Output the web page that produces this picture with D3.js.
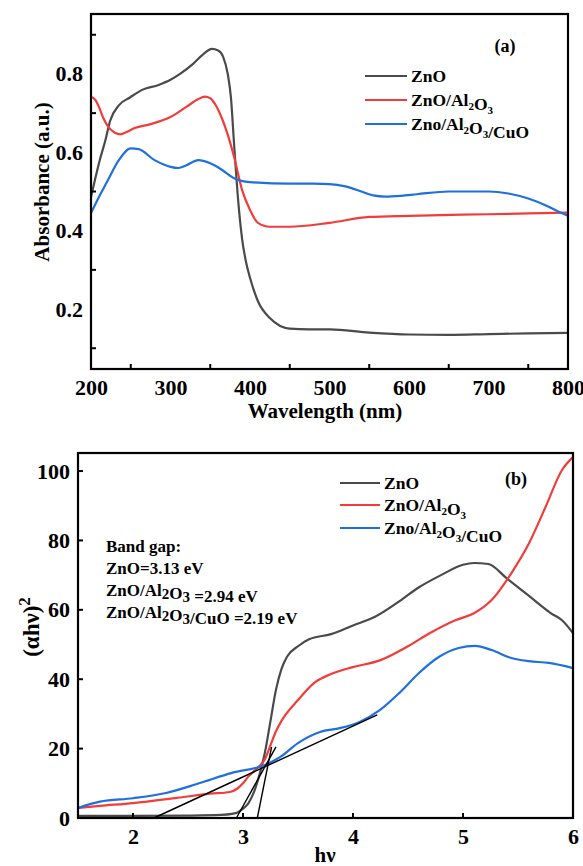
<!DOCTYPE html>
<html>
<head>
<meta charset="utf-8">
<script src="https://cdn.jsdelivr.net/npm/d3@7"></script>
<style>
  body { margin: 0; background: #fff; }
</style>
</head>
<body>
<div id="chart"></div>
<script>
// ---- panel (a) data: absorbance vs wavelength
var wlZnO = [200, 205, 211, 218, 224, 235, 249, 265, 285, 300, 312, 328, 341, 352, 360, 366, 372, 376, 380, 385, 390, 395, 400, 410, 425, 450, 475, 500, 550, 600, 650, 700, 750, 800];
var absZnO = [0.486, 0.53, 0.58, 0.63, 0.68, 0.72, 0.74, 0.76, 0.772, 0.785, 0.80, 0.825, 0.85, 0.864, 0.86, 0.845, 0.80, 0.74, 0.62, 0.48, 0.38, 0.32, 0.28, 0.22, 0.177, 0.15, 0.148, 0.148, 0.14, 0.135, 0.134, 0.136, 0.138, 0.139];

var wlAl = [200, 205, 210, 215, 220, 230, 237, 245, 255, 275, 300, 320, 335, 343, 350, 357, 365, 372, 380, 390, 400, 410, 425, 450, 500, 550, 600, 700, 750, 800];
var absAl = [0.741, 0.735, 0.716, 0.69, 0.67, 0.65, 0.646, 0.652, 0.662, 0.672, 0.69, 0.716, 0.736, 0.742, 0.738, 0.72, 0.685, 0.645, 0.588, 0.504, 0.453, 0.42, 0.41, 0.41, 0.42, 0.435, 0.438, 0.442, 0.444, 0.446];

var wlCu = [200, 210, 220, 235, 250, 260, 280, 300, 310, 320, 335, 350, 365, 380, 400, 450, 480, 500, 520, 540, 555, 570, 590, 610, 650, 700, 725, 750, 775, 790, 800];
var absCu = [0.445, 0.486, 0.524, 0.58, 0.61, 0.608, 0.58, 0.563, 0.56, 0.567, 0.58, 0.572, 0.555, 0.534, 0.524, 0.52, 0.52, 0.519, 0.513, 0.50, 0.49, 0.487, 0.489, 0.493, 0.5, 0.5, 0.495, 0.482, 0.462, 0.447, 0.438];

var wlTicks = [200, 300, 400, 500, 600, 700, 800];
var wlMinor = [250, 350, 450, 550, 650, 750];
var absTicks = [0.2, 0.4, 0.6, 0.8];
var absMinor = [0.1, 0.3, 0.5, 0.7, 0.9];

// ---- panel (b) data: Tauc plot
var evZnO = [1.5, 2.0, 2.5, 2.8, 2.9, 2.95, 3.0, 3.05, 3.1, 3.15, 3.2, 3.25, 3.3, 3.35, 3.4, 3.5, 3.6, 3.8, 4.0, 4.2, 4.4, 4.6, 4.8, 5.0, 5.1, 5.23, 5.4, 5.6, 5.8, 5.9, 6.0];
var tauZnO = [0.6, 0.6, 0.7, 0.9, 1.2, 1.6, 2.7, 4.3, 7.5, 12.5, 19, 28, 37, 43, 46.5, 49.5, 51.5, 53, 55.5, 58, 62, 66.5, 70, 73, 73.5, 73.2, 69, 64, 59, 57, 53.3];

var evAl = [1.5, 1.7, 2.0, 2.4, 2.7, 2.88, 2.95, 3.0, 3.05, 3.1, 3.15, 3.2, 3.25, 3.3, 3.35, 3.5, 3.65, 3.8, 4.0, 4.25, 4.5, 4.7, 4.93, 5.1, 5.26, 5.44, 5.6, 5.75, 5.9, 6.0];
var tauAl = [2.9, 3.5, 4.3, 5.8, 7.0, 7.5, 8.5, 10, 12, 13.5, 15, 17, 21, 25, 28, 34, 39, 41.5, 43.5, 45.5, 49.5, 53.3, 57, 59, 62.8, 70.6, 79.2, 89.6, 100.3, 104];

var evCu = [1.5, 1.7, 2.0, 2.3, 2.6, 2.9, 3.2, 3.34, 3.5, 3.7, 3.88, 4.06, 4.24, 4.42, 4.6, 4.78, 4.96, 5.11, 5.26, 5.44, 5.6, 5.78, 6.0];
var tauCu = [2.9, 4.7, 5.7, 7.2, 10, 13, 15.3, 17.6, 21.6, 24.8, 25.9, 27.7, 31, 36, 41.8, 46.4, 49, 49.6, 48.4, 46.1, 45.2, 44.7, 43.2];

// tangent lines used for the band gap
var fitX0 = [3.13, 2.94, 2.19];
var fitX1 = [3.26, 3.30, 4.22];
var fitY1 = [20.5, 20.5, 29.7];

var evTicks = [2, 3, 4, 5, 6];
var tauTicks = [0, 20, 40, 60, 80, 100];

var names = ["ZnO", "ZnO/Al2O3", "Zno/Al2O3/CuO"];
var colors = ["#4a4a4a", "#f23c3c", "#1f6fde"];

var FONT = "'Liberation Serif', 'Times New Roman', Times, 'DejaVu Serif', serif";

var svg = d3.select("#chart").append("svg")
  .attr("width", 583)
  .attr("height", 866)
  .attr("font-family", FONT)
  .attr("font-weight", "bold");

function txt(g) {
  return g.append("text")
    .style("font-family", FONT)
    .style("font-weight", "bold")
    .attr("fill", "#000");
}

// label with subscripts: digits after "Al" and "O" become subscripts
function richText(sel, str, subSize, subDy) {
  var parts = str.split(/(Al2|O3)/);
  parts.forEach(function(p) {
    if (p === "Al2" || p === "O3") {
      sel.append("tspan").text(p[0] === "A" ? "Al" : "O");
      sel.append("tspan").attr("dy", subDy).style("font-size", subSize + "px").text(p[p.length - 1]);
      sel.append("tspan").attr("dy", -subDy).text("");
    } else if (p.length) {
      sel.append("tspan").text(p);
    }
  });
}

function drawLegend(g, x0, x1, ys, fs) {
  names.forEach(function(n, i) {
    g.append("line")
      .attr("x1", x0).attr("x2", x1)
      .attr("y1", ys[i]).attr("y2", ys[i])
      .attr("stroke", colors[i]).attr("stroke-width", 2.2);
    var t = txt(g)
      .attr("x", x1 + 4).attr("y", ys[i] + 6)
      .style("font-size", fs + "px");
    richText(t, n, 11, 4);
  });
}

function styleAxis(a) {
  a.select(".domain").remove();
  a.selectAll("text")
    .style("font-size", "22px")
    .style("font-family", FONT)
    .style("font-weight", "bold")
    .attr("fill", "#000");
}

//--------------------------------------------------------------------------
// panel (a)
var ax = d3.scaleLinear().domain([200, 800]).range([91, 568]);
var ay = d3.scaleLinear().domain([0.047, 0.953]).range([369, 14]);

var ga = svg.append("g");

var lineA = d3.line().curve(d3.curveMonotoneX)
  .x(d => ax(d[0])).y(d => ay(d[1]));

[[wlZnO, absZnO], [wlAl, absAl], [wlCu, absCu]].forEach(function(s, i) {
  ga.append("path")
    .datum(d3.zip(s[0], s[1]))
    .attr("d", lineA)
    .attr("fill", "none")
    .attr("stroke", colors[i])
    .attr("stroke-width", 2.2);
});

// axes: labels from axis generator, ticks drawn inward
var axB = ga.append("g").attr("transform", "translate(0,369)")
  .call(d3.axisBottom(ax).tickValues(wlTicks).tickSize(0).tickPadding(10).tickFormat(d3.format("d")));
var axL = ga.append("g").attr("transform", "translate(91,0)")
  .call(d3.axisLeft(ay).tickValues(absTicks).tickSize(0).tickPadding(8).tickFormat(d3.format(".1f")));
styleAxis(axB);
styleAxis(axL);

ga.selectAll(".xminor").data(wlMinor).enter().append("line")
  .attr("x1", d => ax(d)).attr("x2", d => ax(d))
  .attr("y1", 369).attr("y2", 364)
  .attr("stroke", "#000").attr("stroke-width", 2);
ga.selectAll(".yminor").data(absMinor).enter().append("line")
  .attr("x1", 91).attr("x2", 96)
  .attr("y1", d => ay(d)).attr("y2", d => ay(d))
  .attr("stroke", "#000").attr("stroke-width", 2);

ga.append("rect")
  .attr("x", 91).attr("y", 14).attr("width", 477).attr("height", 355)
  .attr("fill", "none").attr("stroke", "#000").attr("stroke-width", 2.2);

txt(ga).attr("x", 325).attr("y", 418)
  .attr("text-anchor", "middle").style("font-size", "21px")
  .text("Wavelength (nm)");
txt(ga)
  .attr("transform", "translate(49,182) rotate(-90)")
  .attr("text-anchor", "middle").style("font-size", "21px")
  .text("Absorbance (a.u.)");
txt(ga).attr("x", 505).attr("y", 52)
  .attr("text-anchor", "middle").style("font-size", "18px").text("(a)");

drawLegend(ga, 365, 407, [76, 100, 124], 17.5);

//--------------------------------------------------------------------------
// panel (b)
var bx = d3.scaleLinear().domain([1.5, 6]).range([78, 573]);
var by = d3.scaleLinear().domain([0, 105.2]).range([818, 453]);

var gb = svg.append("g");

var lineB = d3.line().curve(d3.curveMonotoneX)
  .x(d => bx(d[0])).y(d => by(d[1]));

[[evZnO, tauZnO], [evAl, tauAl], [evCu, tauCu]].forEach(function(s, i) {
  gb.append("path")
    .datum(d3.zip(s[0], s[1]))
    .attr("d", lineB)
    .attr("fill", "none")
    .attr("stroke", colors[i])
    .attr("stroke-width", 2.2);
});

fitX0.forEach(function(x0, i) {
  gb.append("line")
    .attr("x1", bx(x0)).attr("y1", by(0))
    .attr("x2", bx(fitX1[i])).attr("y2", by(fitY1[i]))
    .attr("stroke", "#000").attr("stroke-width", 1.4);
});

var bxAxis = gb.append("g").attr("transform", "translate(0,818)")
  .call(d3.axisBottom(bx).tickValues(evTicks).tickSize(0).tickPadding(10).tickFormat(d3.format("d")));
var byAxis = gb.append("g").attr("transform", "translate(78,0)")
  .call(d3.axisLeft(by).tickValues(tauTicks).tickSize(0).tickPadding(8).tickFormat(d3.format("d")));
styleAxis(bxAxis);
styleAxis(byAxis);

gb.selectAll(".xt").data(evTicks.slice(0, 4)).enter().append("line")
  .attr("x1", d => bx(d)).attr("x2", d => bx(d))
  .attr("y1", 818).attr("y2", 813)
  .attr("stroke", "#000").attr("stroke-width", 2);
gb.selectAll(".yt").data(tauTicks.slice(1)).enter().append("line")
  .attr("x1", 78).attr("x2", 83)
  .attr("y1", d => by(d)).attr("y2", d => by(d))
  .attr("stroke", "#000").attr("stroke-width", 2);

gb.append("rect")
  .attr("x", 78).attr("y", 453).attr("width", 495).attr("height", 365)
  .attr("fill", "none").attr("stroke", "#000").attr("stroke-width", 2.2);

txt(gb).attr("x", 325).attr("y", 862)
  .attr("text-anchor", "middle").style("font-size", "21px").text("hν");

var yl = txt(gb)
  .attr("transform", "translate(39,627) rotate(-90)")
  .attr("text-anchor", "middle").style("font-size", "23px");
yl.append("tspan").text("(αhν)");
yl.append("tspan").attr("dy", -9).style("font-size", "17px").text("2");

txt(gb).attr("x", 516).attr("y", 485)
  .attr("text-anchor", "middle").style("font-size", "18px").text("(b)");

drawLegend(gb, 340, 380, [483, 505, 528], 17.5);

// band gap note
var gapLines = ["Band gap:", "ZnO=3.13 eV", "ZnO/Al2O3 =2.94 eV", "ZnO/Al2O3/CuO =2.19 eV"];
var gapY = [552, 574, 596, 618];
gapLines.forEach(function(s, i) {
  var t = txt(gb).attr("x", 106).attr("y", gapY[i]).style("font-size", "17px");
  richText(t, s, 15, 3);
});
</script>
</body>
</html>
